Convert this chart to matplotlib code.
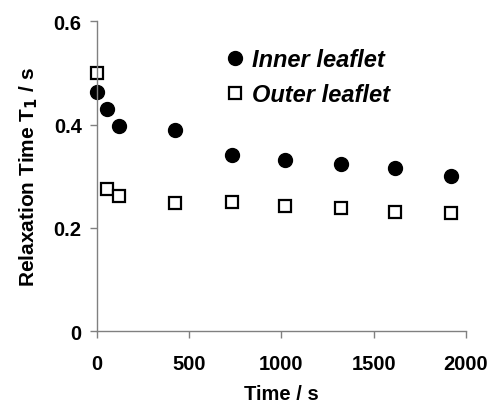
import matplotlib
matplotlib.use("Agg")
import matplotlib.pyplot as plt

# data
time_inner = [0, 54, 121, 424, 732, 1020, 1324, 1617, 1921]
t1_inner = [0.464, 0.430, 0.398, 0.390, 0.341, 0.332, 0.324, 0.317, 0.301]
time_outer = [0, 54, 121, 424, 732, 1020, 1324, 1617, 1921]
t1_outer = [0.500, 0.275, 0.262, 0.248, 0.251, 0.242, 0.239, 0.231, 0.229]

x_ticks = [0, 500, 1000, 1500, 2000]
y_ticks = [0, 0.2, 0.4, 0.6]
y_tick_labels = ["0", "0.2", "0.4", "0.6"]

plt.rcParams['font.family'] = ['Liberation Sans', 'DejaVu Sans']

fig = plt.figure(figsize=(4.92, 4.10), dpi=100)
ax = fig.add_axes([0.197, 0.1895, 0.75, 0.7561])

ax.plot(time_inner, t1_inner, linestyle="none", marker="o", markersize=10,
        color="black", clip_on=False, label="Inner leaflet")
ax.plot(time_outer, t1_outer, linestyle="none", marker="s", markersize=8.5,
        markerfacecolor="white", markeredgecolor="black", markeredgewidth=1.6,
        clip_on=False, label="Outer leaflet")

ax.set_xlim(0, 2000)
ax.set_ylim(0, 0.6)
ax.set_xticks(x_ticks)
ax.set_yticks(y_ticks)
ax.set_yticklabels(y_tick_labels)

for side in ["top", "right"]:
    ax.spines[side].set_visible(False)
for side in ["left", "bottom"]:
    ax.spines[side].set_color("#808080")
    ax.spines[side].set_linewidth(1.0)

ax.tick_params(axis="both", direction="out", length=5, width=1.0,
               color="#808080", labelsize=14.5, pad=6)
for lab in ax.get_xticklabels() + ax.get_yticklabels():
    lab.set_fontweight("bold")
ax.tick_params(axis="x", pad=11)

ax.set_xlabel("Time / s", fontsize=14.5, fontweight="bold", labelpad=8)
ax.set_ylabel(r"Relaxation Time T$_{\mathbf{1}}$ / s", fontsize=15,
              fontweight="bold", labelpad=10)

leg = ax.legend(loc="upper left", bbox_to_anchor=(0.33, 0.944), frameon=False,
                handlelength=0.6, handletextpad=0.4, labelspacing=0.5,
                borderaxespad=0,
                prop={"weight": "bold", "style": "italic", "size": 17})

fig.savefig("out.png", dpi=100)
